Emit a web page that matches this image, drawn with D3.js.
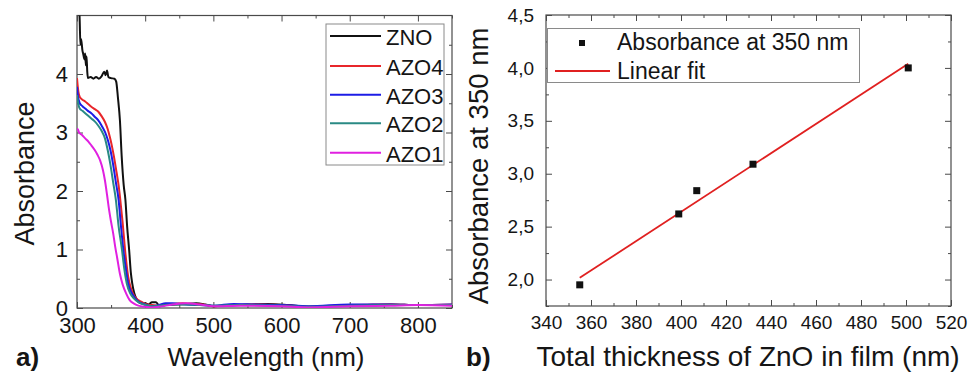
<!DOCTYPE html>
<html><head><meta charset="utf-8">
<script src="https://cdn.jsdelivr.net/npm/d3@7"></script>
<style>
body{margin:0;background:#fff}
svg{display:block}
text{font-family:Arial,"Liberation Sans",sans-serif;fill:#151515}
</style></head>
<body><svg id="c" width="969" height="379"></svg>
<script>
// ---------- Panel a) data: [wavelength nm, absorbance] ----------
const seriesNames = ["ZNO", "AZO4", "AZO3", "AZO2", "AZO1"];
const seriesColors = ["#111111", "#e8262b", "#1c1ce6", "#2a8a84", "#e020e0"];
const zno = [[302,5.6],[304,4.9],[305,4.5],[306,4.6],[308,4.4],[309,4.35],[311,4.25],[312,4.35],[313,4.15],[314,4.3],[315,4.05],[316,3.93],[320,3.95],[324,3.92],[328,3.95],[332,3.92],[336,3.96],[340,4.04],[342,3.98],[344,4.06],[346,3.95],[350,3.93],[355,3.92],[357.5,3.87],[360,3.6],[363,3.2],[365.5,2.6],[368.5,2.1],[371,1.85],[373.5,1.4],[376.5,0.99],[379,0.6],[381,0.42],[384,0.25],[388,0.14],[394,0.08],[400,0.08],[405,0.06],[410,0.1],[416,0.1],[421,0.03],[430,0.05],[445,0.06],[460,0.07],[475,0.08],[488,0.06],[500,0.03],[520,0.04],[550,0.06],[580,0.07],[610,0.05],[640,0.02],[680,0.04],[720,0.05],[760,0.06],[800,0.05],[850,0.05]];
const azo4 = [[300,3.93],[301,3.8],[302,3.7],[304,3.61],[308,3.56],[312,3.53],[316,3.49],[321,3.44],[326,3.4],[331,3.36],[336,3.28],[341,3.18],[345,3.06],[348,2.93],[351,2.78],[354,2.6],[358,2.32],[361,2.1],[363.5,1.85],[367,1.45],[370.5,0.99],[375,0.54],[378,0.38],[382,0.25],[388,0.15],[394,0.11],[400,0.07],[410,0.05],[420,0.04],[430,0.05],[440,0.07],[455,0.08],[470,0.07],[490,0.05],[500,0.03],[530,0.05],[560,0.06],[600,0.05],[640,0.02],[700,0.05],[760,0.06],[800,0.05],[850,0.06]];
const azo3 = [[300,3.78],[301,3.65],[304,3.5],[308,3.45],[312,3.41],[316,3.37],[321,3.33],[326,3.27],[331,3.21],[336,3.12],[341,3.01],[345,2.88],[349,2.7],[353,2.45],[357,2.15],[361,1.85],[364.5,1.4],[368,0.99],[371.5,0.68],[375,0.42],[380,0.26],[385,0.17],[390,0.11],[400,0.06],[410,0.03],[420,0.05],[430,0.08],[440,0.08],[460,0.06],[480,0.05],[500,0.04],[530,0.07],[560,0.06],[600,0.05],[640,0.03],[700,0.06],[760,0.06],[800,0.05],[850,0.06]];
const azo2 = [[300,3.64],[301,3.55],[304,3.41],[308,3.37],[312,3.33],[316,3.29],[321,3.24],[326,3.19],[331,3.12],[336,3.03],[341,2.9],[345,2.7],[349,2.45],[353,2.15],[357,1.85],[361,1.4],[366,0.99],[369,0.7],[373,0.42],[378,0.25],[383,0.17],[390,0.1],[400,0.05],[410,0.03],[420,0.04],[440,0.06],[460,0.06],[480,0.05],[500,0.04],[540,0.05],[600,0.04],[640,0.02],[700,0.04],[760,0.05],[850,0.05]];
const azo1 = [[300,3.04],[301,3.06],[303,3.0],[307,2.96],[312,2.9],[317,2.84],[321,2.78],[326,2.7],[330,2.62],[334,2.52],[338,2.36],[341,2.18],[344,1.94],[347,1.68],[350,1.47],[353,1.28],[356,1.05],[359,0.85],[363,0.58],[367,0.4],[372,0.25],[377,0.14],[383,0.08],[390,0.04],[400,0.02],[410,0.01],[420,0.02],[440,0.06],[460,0.08],[480,0.06],[500,0.03],[540,0.04],[600,0.03],[640,0.01],[700,0.03],[760,0.04],[800,0.05],[850,0.04]];
const seriesData = [zno, azo4, azo3, azo2, azo1];
const xTicksA = [300, 400, 500, 600, 700, 800];
const xMinorA = [350, 450, 550, 650, 750, 850];
const yTicksA = [0, 1, 2, 3, 4];
const yMinorA = [0.5, 1.5, 2.5, 3.5, 4.5];

// ---------- Panel b) data ----------
const thickness = [355, 399, 407, 432, 501];
const absorb350 = [1.95, 2.62, 2.84, 3.09, 4.0];
const fitX = [355, 501];
const fitY = [2.016, 4.039];
const xTicksB = [340, 360, 380, 400, 420, 440, 460, 480, 500, 520];
const xMinorB = [350, 370, 390, 410, 430, 450, 470, 490, 510];
const yTicksB = [2.0, 2.5, 3.0, 3.5, 4.0, 4.5];
const yMinorB = [1.75, 2.25, 2.75, 3.25, 3.75, 4.25];

const svg = d3.select("#c");
const axisColor = "#4a4a4a";

function styleAxis(g){
  g.select(".domain").remove();
  g.selectAll("line").attr("stroke", axisColor).attr("stroke-width", 1);
}

// =============== Panel a ===============
const xA = d3.scaleLinear().domain([300, 850]).range([77, 452]);
const yA = d3.scaleLinear().domain([0, 5]).range([308, 15.5]);

svg.append("defs").append("clipPath").attr("id","clipA")
  .append("rect").attr("x",77).attr("y",15.5).attr("width",375).attr("height",292.5);

svg.append("rect").attr("x",77).attr("y",15.5).attr("width",375).attr("height",292.5)
  .attr("fill","none").attr("stroke",axisColor).attr("stroke-width",1.2);

svg.append("g").attr("transform","translate(0,308)")
  .call(d3.axisBottom(xA).tickValues(xTicksA).tickSize(-6).tickPadding(9).tickFormat(d3.format("d")))
  .call(styleAxis).selectAll("text").attr("font-size",22).attr("fill","#151515");
svg.append("g").attr("transform","translate(0,308)")
  .call(d3.axisBottom(xA).tickValues(xMinorA).tickSize(-3).tickFormat(""))
  .call(styleAxis);
svg.append("g").attr("transform","translate(0,15.5)")
  .call(d3.axisTop(xA).tickValues(xTicksA).tickSize(-6).tickFormat("")).call(styleAxis);
svg.append("g").attr("transform","translate(0,15.5)")
  .call(d3.axisTop(xA).tickValues(xMinorA).tickSize(-3).tickFormat("")).call(styleAxis);
svg.append("g").attr("transform","translate(77,0)")
  .call(d3.axisLeft(yA).tickValues(yTicksA).tickSize(-6).tickPadding(9).tickFormat(d3.format("d")))
  .call(styleAxis).selectAll("text").attr("font-size",22).attr("fill","#151515");
svg.append("g").attr("transform","translate(77,0)")
  .call(d3.axisLeft(yA).tickValues(yMinorA).tickSize(-3).tickFormat("")).call(styleAxis);
svg.append("g").attr("transform","translate(452,0)")
  .call(d3.axisRight(yA).tickValues(yTicksA).tickSize(-6).tickFormat("")).call(styleAxis);
svg.append("g").attr("transform","translate(452,0)")
  .call(d3.axisRight(yA).tickValues(yMinorA).tickSize(-3).tickFormat("")).call(styleAxis);

const lineA = d3.line().x(d => xA(d[0])).y(d => yA(d[1])).curve(d3.curveMonotoneX);
const curvesG = svg.append("g").attr("clip-path","url(#clipA)");
seriesData.forEach((s, i) => {
  curvesG.append("path").attr("d", lineA(s))
    .attr("fill","none").attr("stroke", seriesColors[i]).attr("stroke-width", 2)
    .attr("stroke-linejoin","round");
});

const legA = svg.append("g");
legA.append("rect").attr("x",326).attr("y",24).attr("width",118).attr("height",141)
  .attr("fill","#fff").attr("stroke","#8a8a8a").attr("stroke-width",1);
const legYs = [36, 66, 94.7, 123.3, 152.7];
seriesNames.forEach((n, i) => {
  legA.append("line").attr("x1",330).attr("x2",381).attr("y1",legYs[i]).attr("y2",legYs[i])
    .attr("stroke", seriesColors[i]).attr("stroke-width", 2);
  legA.append("text").attr("x",386).attr("y",legYs[i] + 9).attr("font-size",22).text(n);
});

svg.append("text").attr("transform","translate(34,173.5) rotate(-90)")
  .attr("text-anchor","middle").attr("font-size",27).text("Absorbance");
svg.append("text").attr("x",266).attr("y",366).attr("text-anchor","middle")
  .attr("font-size",26).text("Wavelength (nm)");
svg.append("text").attr("x",16).attr("y",366).attr("font-size",26).attr("font-weight","bold").text("a)");

// =============== Panel b ===============
const xB = d3.scaleLinear().domain([340, 520]).range([546, 951]);
const yB = d3.scaleLinear().domain([1.75, 4.5]).range([306, 15]);
const commaFmt = d => d3.format(".1f")(d).replace(".", ",");

svg.append("rect").attr("x",546).attr("y",15).attr("width",405).attr("height",291)
  .attr("fill","none").attr("stroke",axisColor).attr("stroke-width",1.2);

svg.append("g").attr("transform","translate(0,306)")
  .call(d3.axisBottom(xB).tickValues(xTicksB).tickSize(-6).tickPadding(10).tickFormat(d3.format("d")))
  .call(styleAxis).selectAll("text").attr("font-size",19).attr("fill","#151515");
svg.append("g").attr("transform","translate(0,306)")
  .call(d3.axisBottom(xB).tickValues(xMinorB).tickSize(-3).tickFormat("")).call(styleAxis);
svg.append("g").attr("transform","translate(0,15)")
  .call(d3.axisTop(xB).tickValues(xTicksB).tickSize(-6).tickFormat("")).call(styleAxis);
svg.append("g").attr("transform","translate(0,15)")
  .call(d3.axisTop(xB).tickValues(xMinorB).tickSize(-3).tickFormat("")).call(styleAxis);
svg.append("g").attr("transform","translate(546,0)")
  .call(d3.axisLeft(yB).tickValues(yTicksB).tickSize(-6).tickPadding(12).tickFormat(commaFmt))
  .call(styleAxis).selectAll("text").attr("font-size",19).attr("fill","#151515");
svg.append("g").attr("transform","translate(546,0)")
  .call(d3.axisLeft(yB).tickValues(yMinorB).tickSize(-3).tickFormat("")).call(styleAxis);
svg.append("g").attr("transform","translate(951,0)")
  .call(d3.axisRight(yB).tickValues(yTicksB).tickSize(-6).tickFormat("")).call(styleAxis);
svg.append("g").attr("transform","translate(951,0)")
  .call(d3.axisRight(yB).tickValues(yMinorB).tickSize(-3).tickFormat("")).call(styleAxis);

svg.append("path").attr("d", d3.line()(fitX.map((x, i) => [xB(x), yB(fitY[i])])))
  .attr("stroke","#e02020").attr("stroke-width",1.8).attr("fill","none");
const ms = 7;
svg.append("g").selectAll("rect").data(thickness).join("rect")
  .attr("x", (d) => xB(d) - ms/2)
  .attr("y", (d, i) => yB(absorb350[i]) - ms/2)
  .attr("width", ms).attr("height", ms).attr("fill","#111");

const legB = svg.append("g");
legB.append("rect").attr("x",547.5).attr("y",28.5).attr("width",312).attr("height",54)
  .attr("fill","#fff").attr("stroke","#8a8a8a").attr("stroke-width",1);
legB.append("rect").attr("x",579).attr("y",40).attr("width",6).attr("height",6).attr("fill","#111");
legB.append("text").attr("x",617).attr("y",50).attr("font-size",23).text("Absorbance at 350 nm");
legB.append("line").attr("x1",555).attr("x2",610).attr("y1",71).attr("y2",71)
  .attr("stroke","#e02020").attr("stroke-width",1.8);
legB.append("text").attr("x",617).attr("y",78.5).attr("font-size",23).text("Linear fit");

svg.append("text").attr("transform","translate(488,166) rotate(-90)")
  .attr("text-anchor","middle").attr("font-size",27.5).text("Absorbance at 350 nm");
svg.append("text").attr("x",748).attr("y",366).attr("text-anchor","middle")
  .attr("font-size",28).text("Total thickness of ZnO in film (nm)");
svg.append("text").attr("x",466).attr("y",366).attr("font-size",26).attr("font-weight","bold").text("b)");
</script>
</body></html>
